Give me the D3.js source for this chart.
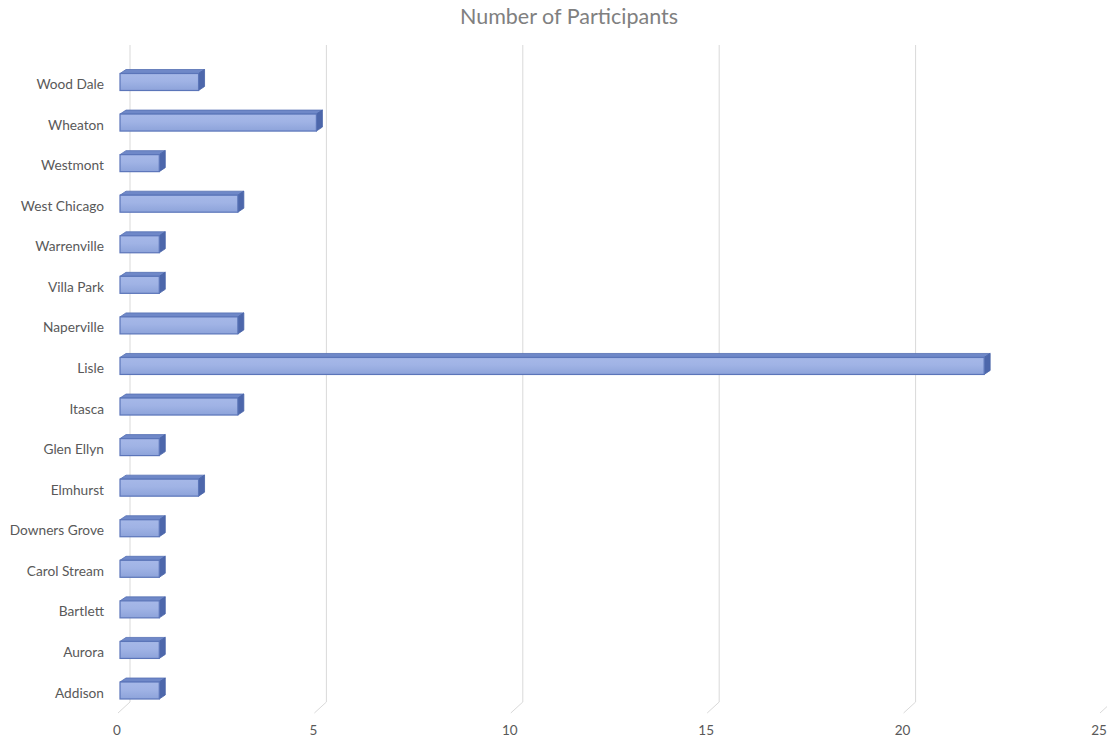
<!DOCTYPE html>
<html><head><meta charset="utf-8">
<script src="https://cdn.jsdelivr.net/npm/d3@7"></script>
<style>body{margin:0;background:#fff;}svg{display:block;font-family:"Lato","Open Sans",sans-serif;}</style>
</head><body><svg id="c" width="1107" height="742"></svg>
<script>
const categories = ["Wood Dale","Wheaton","Westmont","West Chicago","Warrenville","Villa Park","Naperville","Lisle","Itasca","Glen Ellyn","Elmhurst","Downers Grove","Carol Stream","Bartlett","Aurora","Addison"];
const values = [2,5,1,3,1,1,3,22,3,1,2,1,1,1,1,1];
const ticks = [0,5,10,15,20,25];
const title = "Number of Participants";

const svg = d3.select("#c");
const x = d3.scaleLinear().domain([0,25]).range([120,1102]);
const y = d3.scalePoint().domain(categories).range([82,690.5]);
const barH = 17, dx = 6, dy = 4;

const defs = svg.append("defs");
const g = defs.append("linearGradient").attr("id","fr").attr("x1",0).attr("y1",0).attr("x2",0).attr("y2",1);
g.append("stop").attr("offset","0%").attr("stop-color","#a6b8e8");
g.append("stop").attr("offset","45%").attr("stop-color","#a0b3e5");
g.append("stop").attr("offset","100%").attr("stop-color","#8da3da");

svg.append("text").attr("x",569).attr("y",24).attr("text-anchor","middle")
  .attr("font-size",21.5).attr("fill","#808080").text(title);

// gridlines (back wall + floor)
const grid = svg.append("g");
ticks.forEach(t=>{
  const bx = x(t)+10;
  grid.append("path").attr("d",`M${bx},45 L${bx},702 L${x(t)-2},713`)
    .attr("fill","none").attr("stroke","#d9d9d9").attr("stroke-width",1);
});

// tick labels
svg.append("g").selectAll("text").data(ticks).join("text")
  .attr("x",d=>x(d)-3).attr("y",735).attr("text-anchor","middle")
  .attr("font-size",13.5).attr("fill","#595959").text(d=>d);

// category labels
svg.append("g").selectAll("text").data(categories).join("text")
  .attr("x",104).attr("y",d=>y(d)+7).attr("text-anchor","end")
  .attr("font-size",13.7).attr("fill","#595959").text(d=>d);

// bars
const bars = svg.append("g").selectAll("g").data(categories).join("g");
bars.each(function(c,i){
  const sel = d3.select(this);
  const x0 = x(0), x1 = x(values[i]), yt = y(c)-barH/2, yb = y(c)+barH/2;
  sel.append("path").attr("d",`M${x0},${yt} L${x0+dx},${yt-dy} L${x1+dx},${yt-dy} L${x1},${yt} Z`)
    .attr("fill","#6f88c8").attr("stroke","#5670b4").attr("stroke-width",0.8);
  sel.append("path").attr("d",`M${x1},${yt} L${x1+dx},${yt-dy} L${x1+dx},${yb-dy} L${x1},${yb} Z`)
    .attr("fill","#4d67ab").attr("stroke","#4863a8").attr("stroke-width",0.8);
  sel.append("rect").attr("x",x0).attr("y",yt).attr("width",x1-x0).attr("height",barH)
    .attr("fill","url(#fr)").attr("stroke","#5b75b9").attr("stroke-width",1.2);
});
</script></body></html>
